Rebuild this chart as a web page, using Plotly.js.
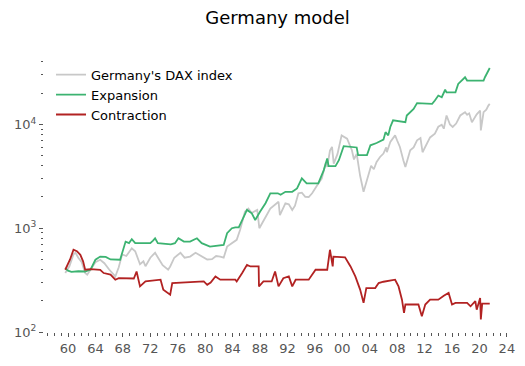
<!DOCTYPE html>
<html>
<head>
<meta charset="utf-8">
<script src="https://cdn.plot.ly/plotly-3.0.1.min.js"></script>
<style>html,body{margin:0;padding:0;background:#fff;}#chart{width:525px;height:366px;}</style>
</head>
<body>
<div id="chart"></div>
<script>
// DAX index
var daxYear = [1959.6,1960.2,1960.8,1961.1,1961.5,1962.0,1962.5,1962.8,1963.3,1964.0,1964.7,1965.3,1966.0,1966.9,1967.4,1967.9,1968.5,1969.3,1969.8,1970.5,1971.0,1971.3,1972.0,1972.7,1973.2,1973.8,1974.6,1974.9,1975.5,1976.4,1977.0,1977.8,1978.6,1979.2,1979.7,1980.3,1981.0,1981.6,1982.2,1982.7,1983.2,1983.9,1984.6,1985.1,1985.8,1986.3,1986.8,1987.1,1987.6,1987.9,1988.5,1989.0,1989.5,1990.3,1990.7,1990.9,1991.3,1991.7,1992.2,1992.7,1993.1,1993.6,1994.1,1994.6,1995.1,1995.6,1996.5,1997.0,1997.6,1997.8,1998.2,1998.5,1998.75,1999.3,1999.9,2000.2,2000.7,2001.4,2001.7,2002.1,2002.6,2003.1,2003.8,2004.2,2004.6,2005.0,2005.5,2006.0,2006.4,2006.5,2007.0,2007.7,2008.0,2008.4,2008.9,2009.2,2009.9,2010.4,2010.9,2011.4,2011.7,2012.3,2012.8,2013.5,2014.0,2014.5,2014.8,2015.2,2015.7,2016.1,2016.6,2017.2,2017.9,2018.2,2018.5,2018.9,2019.6,2020.1,2020.2,2020.6,2021.0,2021.3,2021.5];
var daxValue = [370,430,560,580,520,470,370,357,400,470,497,460,400,343,420,560,540,640,600,450,480,430,520,580,510,440,398,428,520,580,520,533,580,550,533,500,504,540,533,520,665,722,773,965,1443,1550,1400,1443,1500,1000,1200,1350,1550,1700,1800,1340,1500,1740,1700,1500,1650,2170,2200,2010,2000,2170,2700,3000,4300,3900,5600,6070,4200,5200,7850,7600,7300,5640,4600,5200,3200,2245,3370,4000,3700,4350,4860,5240,6000,5400,6780,7850,7000,6070,4520,3900,5640,6000,7030,7400,5400,6530,7500,8150,9500,9920,9100,12200,10000,9450,10200,12200,13100,12400,12800,10500,12500,13600,8770,13150,13900,15200,15800];

// Expansion model
var expYear = [1959.6,1960.0,1960.5,1961.5,1962.5,1963.0,1963.3,1964.0,1964.7,1965.5,1966.2,1967.6,1968.0,1968.4,1968.9,1969.3,1969.8,1972.0,1972.4,1972.7,1973.1,1975.0,1975.6,1976.1,1976.9,1977.8,1978.8,1979.5,1980.7,1982.7,1983.2,1983.9,1984.4,1984.9,1985.4,1986.1,1986.8,1987.3,1988.0,1988.8,1989.5,1990.6,1991.0,1991.7,1992.7,1993.4,1994.1,1994.8,1996.5,1997.3,1997.8,1998.0,1999.0,1999.5,2000.2,2002.1,2002.3,2003.6,2004.1,2005.0,2006.0,2006.3,2006.7,2007.0,2007.4,2009.2,2009.4,2010.4,2010.9,2013.1,2013.5,2014.0,2014.5,2015.0,2015.2,2016.5,2016.9,2017.9,2018.2,2020.6,2020.8,2021.5];
var expValue = [413,390,380,385,383,390,400,497,533,530,500,497,620,743,720,783,718,718,760,800,718,700,718,800,743,743,800,718,665,690,895,1000,1020,1020,1200,1500,1390,1200,1443,1740,2170,2170,2100,2245,2245,2420,3020,2700,2700,3630,4700,3960,3960,4520,6170,6000,5070,5070,6300,6620,7140,8430,7850,9450,10950,10500,12200,14100,16070,15800,17000,19000,18300,21600,20400,20400,24600,28500,26500,26500,28500,35000];

// Contraction model
var conYear = [1959.6,1960.3,1960.8,1961.3,1961.8,1962.2,1962.5,1963.3,1964.7,1965.2,1966.2,1966.9,1967.4,1969.6,1970.0,1970.5,1971.3,1973.5,1973.9,1974.5,1974.9,1975.2,1979.8,1980.3,1980.8,1981.5,1982.2,1984.4,1984.6,1985.4,1986.1,1986.6,1987.8,1987.85,1988.5,1989.7,1990.2,1990.7,1991.4,1992.2,1992.7,1993.2,1995.1,1996.1,1997.8,1998.2,1998.6,1998.7,2000.4,2001.2,2001.9,2002.6,2003.1,2003.5,2004.8,2005.3,2006.0,2007.7,2008.2,2008.7,2009.0,2009.2,2011.1,2011.6,2012.1,2012.8,2014.0,2014.8,2015.5,2016.0,2016.5,2018.2,2018.7,2019.4,2019.6,2020.1,2020.2,2020.4,2021.5];
var conValue = [398,500,620,600,554,480,398,404,398,370,357,319,330,328,383,275,307,319,256,240,229,296,307,285,300,343,319,319,307,370,444,428,428,275,307,307,383,275,330,343,275,319,319,398,398,620,428,533,525,428,343,256,191,265,265,296,305,319,275,205,153,184,184,142,184,205,205,224,238,184,191,191,177,198,164,213,132,188,188];

var seriesNames = ["Germany's DAX index", "Expansion", "Contraction"];
var xTickVals = [1960,1964,1968,1972,1976,1980,1984,1988,1992,1996,2000,2004,2008,2012,2016,2020,2024];
var xTickText = ["60","64","68","72","76","80","84","88","92","96","00","04","08","12","16","20","24"];
var yTickVals = [100,1000,10000];
var yTickText = ["10<sup>2</sup>","10<sup>3</sup>","10<sup>4</sup>"];
var yMinorVals = [200,300,400,500,600,700,800,900,2000,3000,4000,5000,6000,7000,8000,9000,20000,30000,40000];

var traces = [
  {x: daxYear, y: daxValue, name: seriesNames[0], mode: 'lines', line: {color: '#c8c8c8', width: 1.8}},
  {x: expYear, y: expValue, name: seriesNames[1], mode: 'lines', line: {color: '#3cb371', width: 1.8}},
  {x: conYear, y: conValue, name: seriesNames[2], mode: 'lines', line: {color: '#b22222', width: 1.8}}
];

var layout = {
  width: 525, height: 366,
  margin: {l: 44, r: 14, t: 57, b: 34},
  paper_bgcolor: '#fff', plot_bgcolor: '#fff',
  font: {family: 'DejaVu Sans', size: 13, color: '#555'},
  title: {text: 'Germany model', x: 0.5, xref: 'paper', y: 0.951, yref: 'container', yanchor: 'middle', font: {size: 18, color: '#000', family: 'DejaVu Sans'}},
  showlegend: true,
  legend: {x: 0.015, y: 0.99, xanchor: 'left', yanchor: 'top', bgcolor: 'rgba(0,0,0,0)', borderwidth: 0, font: {size: 13, color: '#000'}},
  xaxis: {
    range: [1956.5, 2024.6], showgrid: false, zeroline: false, showline: false,
    tickmode: 'array', tickvals: xTickVals, ticktext: xTickText,
    ticks: 'outside', ticklen: 4, tickcolor: '#555', tickwidth: 1,
    minor: {dtick: 1, tick0: 1960, ticks: 'outside', ticklen: 3, tickcolor: '#555', showgrid: false},
    tickfont: {size: 13, color: '#555'}
  },
  yaxis: {
    type: 'log', range: [2, 4.65], showgrid: false, zeroline: false, showline: false,
    tickmode: 'array', tickvals: yTickVals, ticktext: yTickText,
    ticks: 'outside', ticklen: 4, tickcolor: '#555', tickwidth: 1,
    minor: {tickmode: 'array', tickvals: yMinorVals, ticks: 'outside', ticklen: 2, tickcolor: '#555', showgrid: false},
    tickfont: {size: 13, color: '#555'}
  }
};

Plotly.newPlot('chart', traces, layout, {displayModeBar: false, staticPlot: true});
</script>
</body>
</html>
